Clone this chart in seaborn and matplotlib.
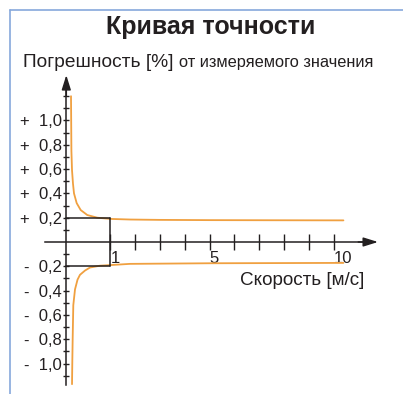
import numpy as np
import pandas as pd
import seaborn as sns
import matplotlib.pyplot as plt
from matplotlib.lines import Line2D

# accuracy curve (speed in m/s, error in %)
upper_speed = [0.107, 0.111, 0.116, 0.130, 0.152, 0.175, 0.236, 0.327, 0.477, 0.705, 1.0, 1.8, 3.0, 5.0, 7.5, 10.4]
upper_error = [1.2, 1.0, 0.75, 0.59, 0.48, 0.40, 0.32, 0.263, 0.222, 0.20, 0.19, 0.185, 0.182, 0.18, 0.179, 0.178]
lower_speed = [0.130, 0.136, 0.145, 0.159, 0.198, 0.255, 0.311, 0.425, 0.539, 0.766, 1.0, 1.79, 5.0, 10.4]
lower_error = [-1.17, -1.0, -0.79, -0.52, -0.39, -0.31, -0.27, -0.235, -0.21, -0.195, -0.19, -0.18, -0.175, -0.172]

ref_speed = 1.0
ref_error = 0.2

x_ticks = [1, 2, 3, 4, 5, 6, 7, 8, 9, 10]
x_labels = ['1', '', '', '', '5', '', '', '', '', '10']
y_ticks = [v / 10 for v in range(-11, 13) if v != 0]
y_labeled = [-1.0, -0.8, -0.6, -0.4, -0.2, 0.2, 0.4, 0.6, 0.8, 1.0]

title = 'Кривая точности'
ylabel_main = 'Погрешность [%]'
ylabel_tail = 'от измеряемого значения'
xlabel = 'Скорость [м/с]'

df = pd.concat([
    pd.DataFrame({'speed': upper_speed, 'error': upper_error, 'branch': 'upper'}),
    pd.DataFrame({'speed': lower_speed, 'error': lower_error, 'branch': 'lower'}),
])

sns.set_theme(style='white')
plt.rcParams['font.family'] = ['Liberation Sans', 'DejaVu Sans']

W, H = 403, 394
fig = plt.figure(figsize=(W / 100, H / 100), dpi=100)
ax = fig.add_axes([0, 0, 1, 1])
ax.patch.set_alpha(0)

# the 0..1 m/s segment is stretched in the original drawing
K = 44 / 24.8


def fwd(v):
    v = np.asarray(v, dtype=float)
    return np.where(v < 1, v * K, K + (v - 1))


def inv(f):
    f = np.asarray(f, dtype=float)
    return np.where(f < K, f / K, 1 + (f - K))


ax.set_xscale('function', functions=(fwd, inv))
px_per_unit_x = 24.8
x0_px = 66.3
ax.set_xlim(float(inv(-x0_px / px_per_unit_x)), float(inv((W - x0_px) / px_per_unit_x)))
py = 121.5
y0_px = 242
ax.set_ylim(-(H - y0_px) / py, y0_px / py)

dark = '#231f20'
orange = '#f0a040'

sns.lineplot(data=df, x='speed', y='error', units='branch', estimator=None,
             color=orange, lw=1.3, ax=ax, sort=True)

# reference box at 1 m/s / 0.2 %
ax.plot([0, ref_speed], [ref_error, ref_error], color=dark, lw=1.1)
ax.plot([0, ref_speed], [-ref_error, -ref_error], color=dark, lw=1.1)
ax.plot([ref_speed, ref_speed], [ref_error, -ref_error], color=dark, lw=1.1)

# axes through the origin
for s in ['top', 'right']:
    ax.spines[s].set_visible(False)
ax.spines['left'].set_position(('data', 0))
ax.spines['bottom'].set_position(('data', 0))
ax.spines['left'].set_bounds(-1.177, 1.25)
ax.spines['bottom'].set_bounds(float(inv(-21 / px_per_unit_x)), 11.3)
for s in ['left', 'bottom']:
    ax.spines[s].set_color(dark)
    ax.spines[s].set_linewidth(1.1)

ax.annotate('', xy=(0, 1.374), xytext=(0, 1.2),
            arrowprops=dict(arrowstyle='-|>,head_length=0.8,head_width=0.25',
                            color=dark, lw=1.1, mutation_scale=11, shrinkA=0, shrinkB=0))
ax.annotate('', xy=(float(inv((378 - x0_px) / px_per_unit_x)), 0), xytext=(11.0, 0),
            arrowprops=dict(arrowstyle='-|>,head_length=0.8,head_width=0.25',
                            color=dark, lw=1.1, mutation_scale=11, shrinkA=0, shrinkB=0))

ax.set_xticks(x_ticks)
ax.set_xticklabels(x_labels, ha='left')
ax.xaxis.set_minor_locator(plt.NullLocator())


def ylab(v):
    if not any(abs(v - t) < 1e-9 for t in y_labeled):
        return ''
    sign = '+' if v > 0 else '-'
    return f'{sign}  {abs(v):.1f}'.replace('.', ',')


ax.set_yticks(y_ticks)
ax.set_yticklabels([ylab(v) for v in y_ticks])
ax.tick_params(axis='x', direction='inout', length=12, width=1.0, color=dark,
               pad=0.5, labelsize=12, labelcolor=dark, bottom=True)
ax.tick_params(axis='y', direction='inout', length=5, width=1.0, color=dark,
               pad=0.5, labelsize=12, labelcolor=dark, left=True)
ax.set_xlabel('')
ax.set_ylabel('')

# texts
fig.text(211 / W, 1 - 27 / H, title, ha='center', va='center',
         fontsize=18, fontweight='bold', color=dark)
fig.text(22.7 / W, 1 - 66.7 / H, ylabel_main, ha='left', va='baseline',
         fontsize=13.8, color=dark)
fig.text(179 / W, 1 - 66.7 / H, ylabel_tail, ha='left', va='baseline',
         fontsize=11.8, color=dark)
fig.text(240 / W, 1 - 285 / H, xlabel, ha='left', va='baseline',
         fontsize=13.6, color=dark)

# light blue frame on the left and top
frame = '#86a8dc'
fig.add_artist(Line2D([9.5 / W, 9.5 / W], [0, 1 - 9.5 / H], color=frame, lw=1.2))
fig.add_artist(Line2D([9.5 / W, 1], [1 - 9.5 / H, 1 - 9.5 / H], color=frame, lw=1.2))

fig.savefig('out.png', dpi=100)
